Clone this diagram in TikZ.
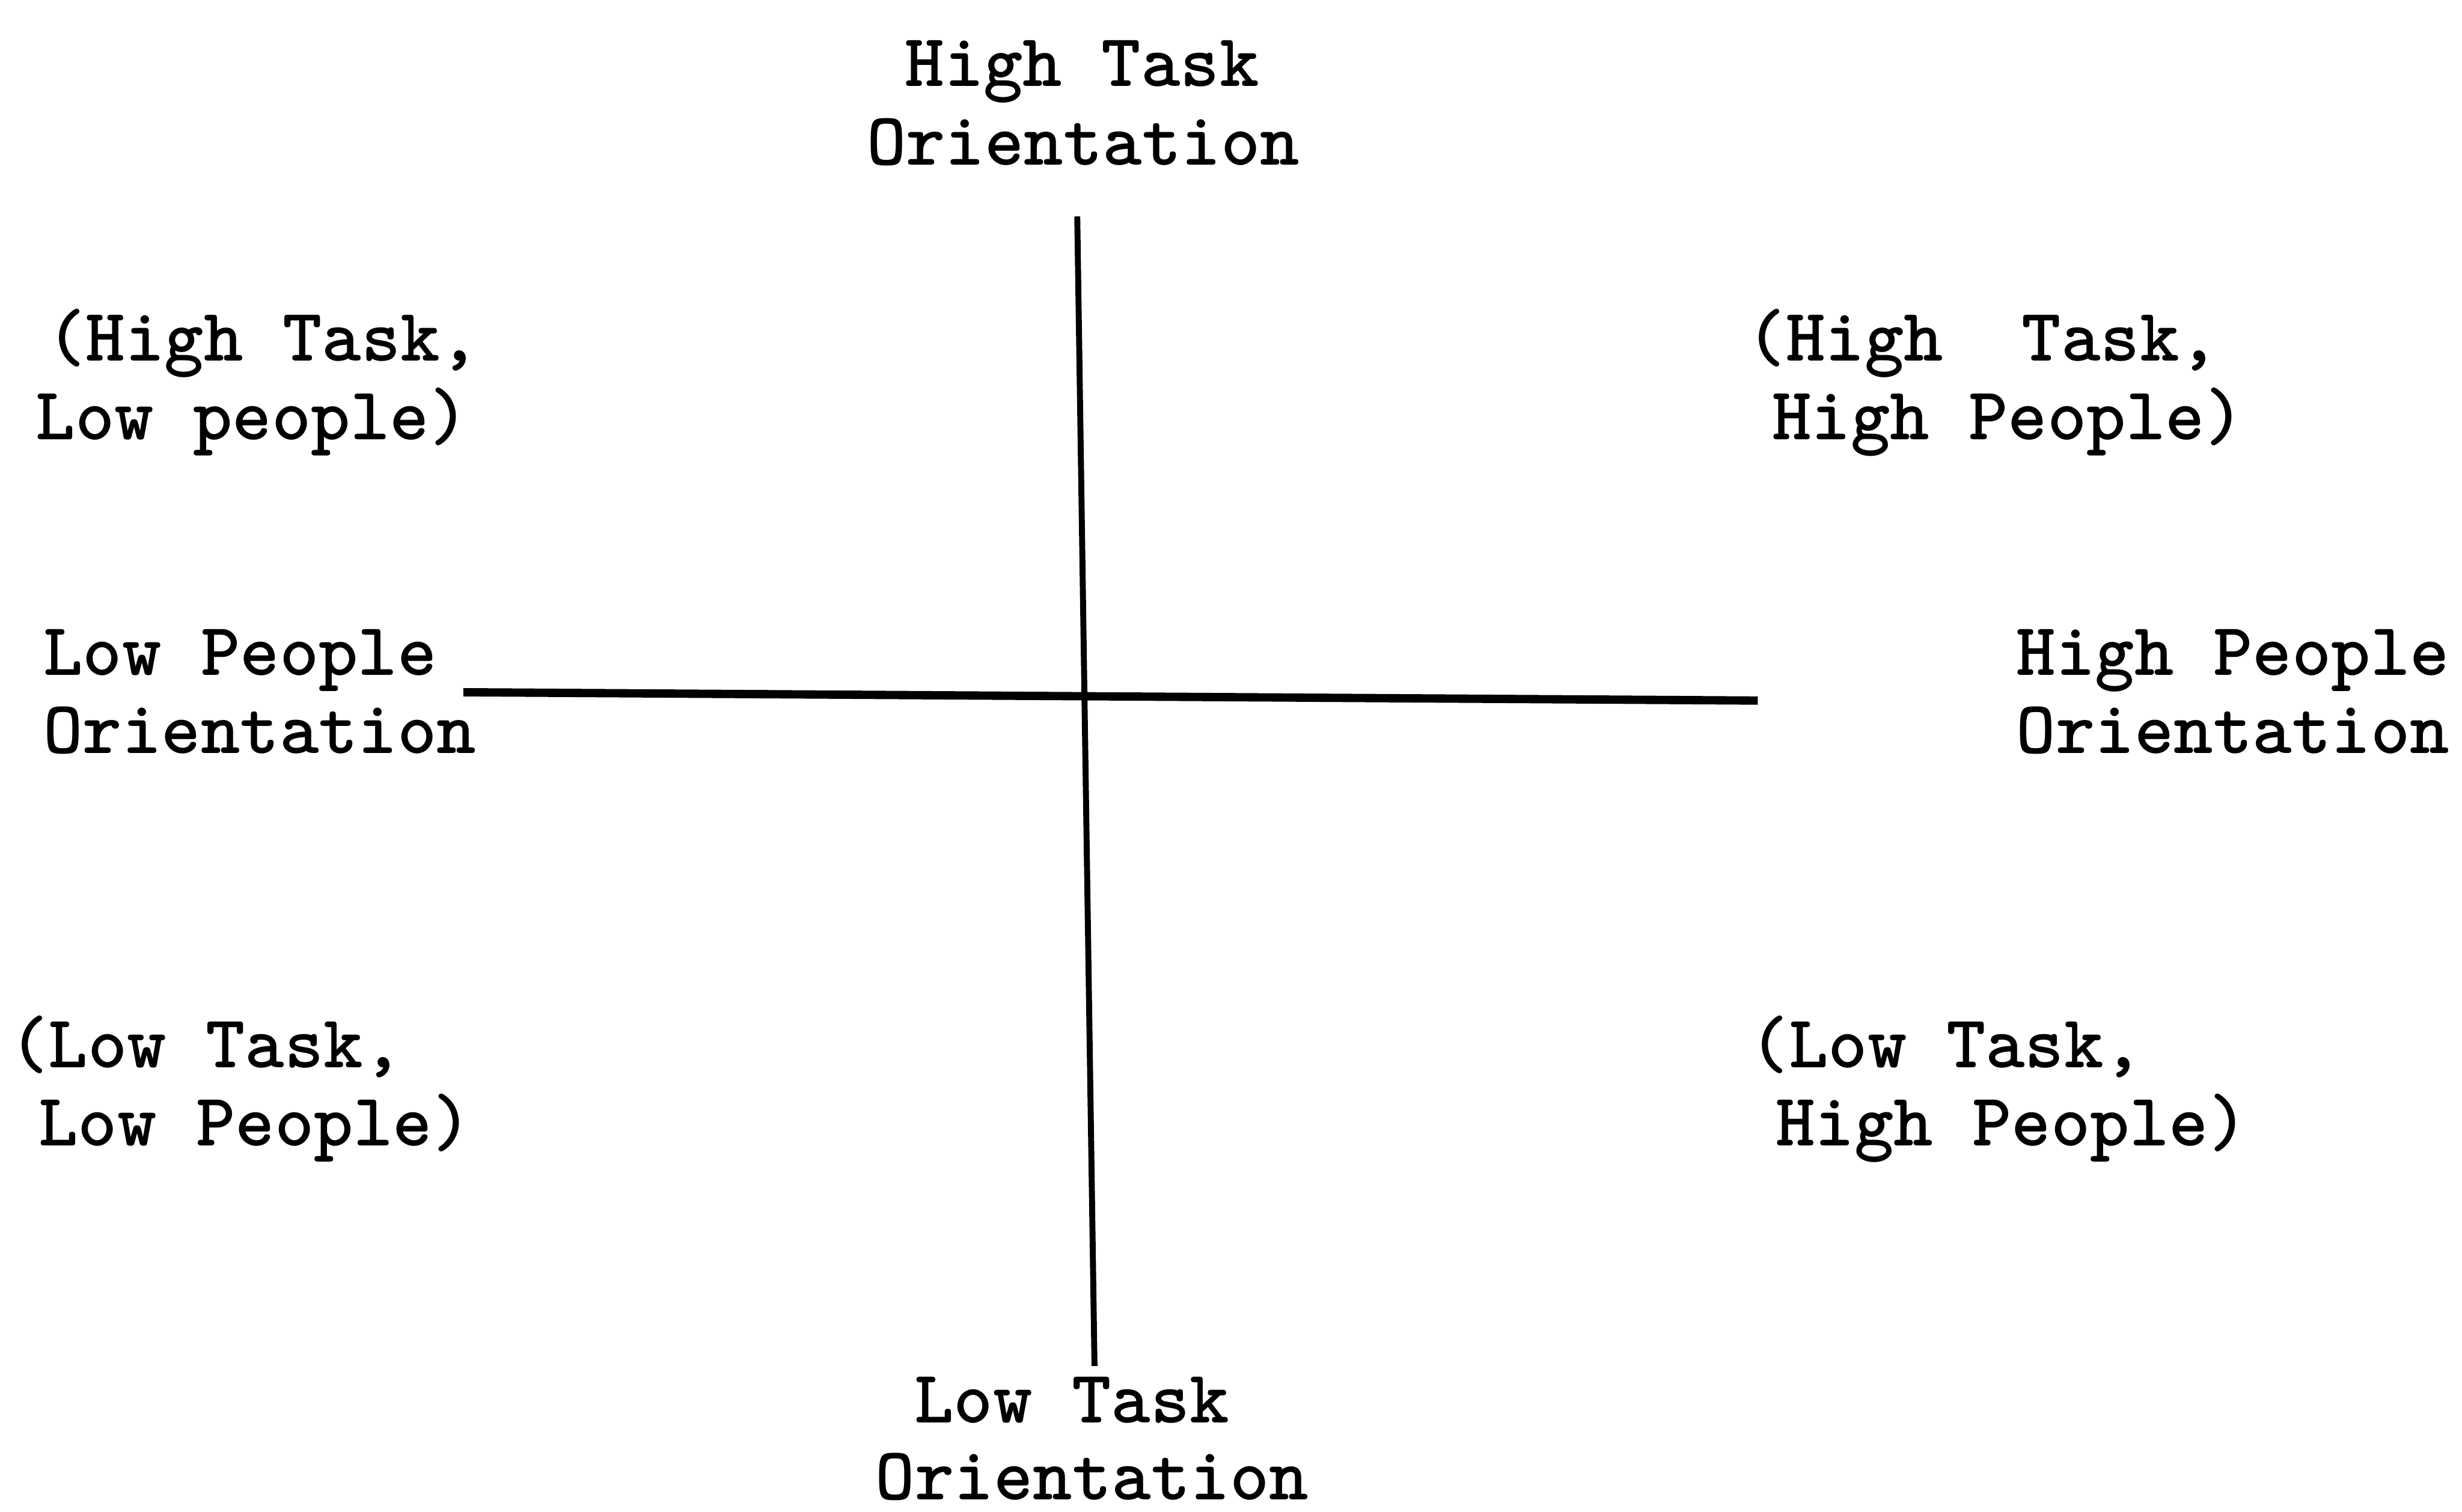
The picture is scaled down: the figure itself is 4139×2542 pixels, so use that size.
\documentclass[tikz,border=0pt]{standalone}
\begin{document}
\begin{tikzpicture}[x=0.2pt,y=-0.2pt,
  lbl/.style={font=\ttfamily\bfseries\fontsize{25.2}{26}\selectfont, inner sep=0pt, anchor=base},
  lblw/.style={lbl, anchor=base west},
  axis/.style={draw=black, line cap=butt}]
\useasboundingbox (0,0) rectangle (4139,2542);
% top
\node[lbl] (top1) at (1819,145) {High Task};
\node[lbl] (top2) at (1821,277) {Orientation};
% upper left
\node[lbl] (ul1) at (442,607) {(High Task,};
\node[lbl] (ul2) at (424,739) {Low people)};
% upper right
\node[lbl] (ur1) at (3333,607) {(High~~Task,};
\node[lbl] (ur2) at (3376,739) {High People)};
% middle left
\node[lblw] (ml1) at (72,1135) {Low People};
\node[lblw] (ml2) at (72,1267) {Orientation};
% middle right
\node[lblw] (mr1) at (3389,1135) {High People};
\node[lblw] (mr2) at (3389,1267) {Orientation};
% lower left
\node[lbl] (ll1) at (346,1795) {(Low Task,};
\node[lbl] (ll2) at (429,1927) {Low People)};
% lower right
\node[lbl] (lr1) at (3272,1795) {(Low Task,};
\node[lbl] (lr2) at (3382,1927) {High People)};
% bottom
\node[lbl] (bot1) at (1802,2392) {Low Task};
\node[lbl] (bot2) at (1836,2522) {Orientation};
% axes
\coordinate (vtop) at (1811,364);
\coordinate (vbot) at (1840,2297);
\coordinate (hleft) at (779,1164);
\coordinate (hright) at (2955,1178);
\draw[axis, line width=2pt] (vtop) -- (vbot);
\draw[axis, line width=2.8pt] (hleft) -- (hright);
\end{tikzpicture}
\end{document}
